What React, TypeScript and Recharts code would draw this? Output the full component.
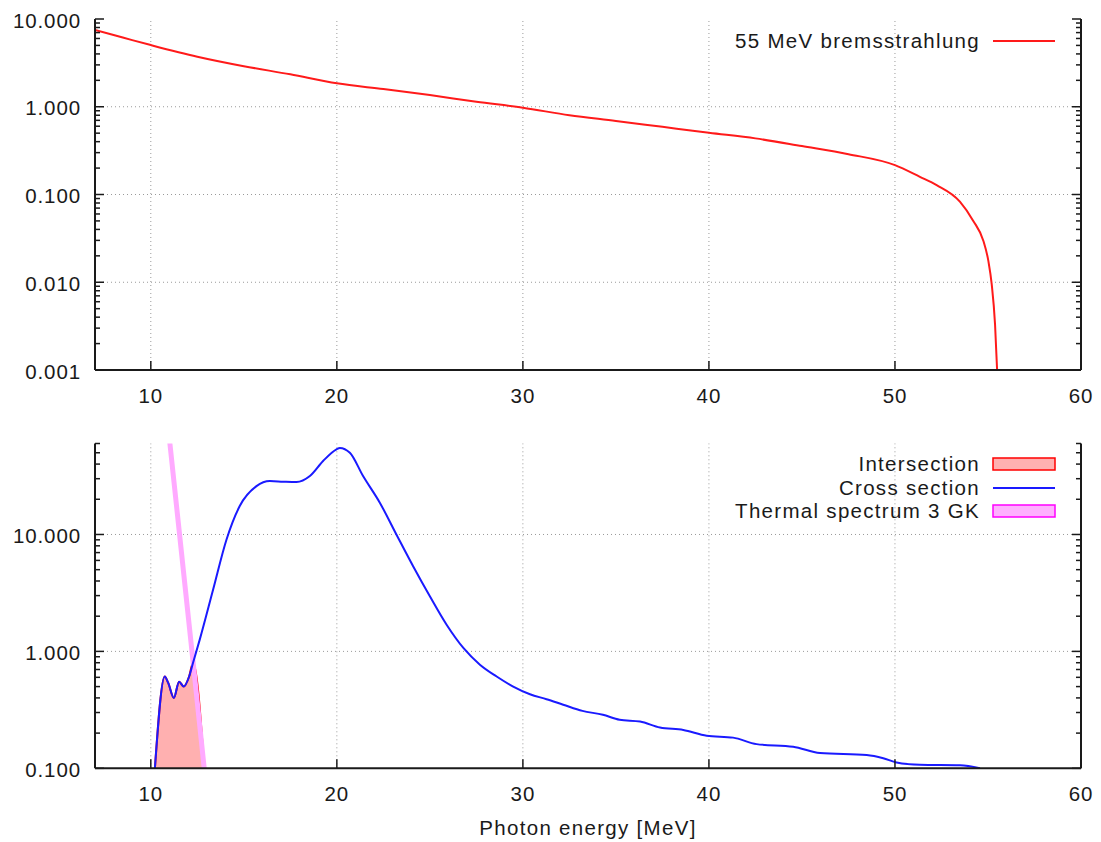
import React from "react";
import {
  ComposedChart,
  Line,
  Area,
  XAxis,
  YAxis,
  ReferenceLine,
  Legend,
} from "recharts";

const FONT = '"Liberation Sans", Arial, Helvetica, sans-serif';
const INK = "#1a1a1a";
const GRID = "#9a9a9a";

// shared energy axis
const energyDomain: [number, number] = [7, 60];
const energyTicks = [10, 20, 30, 40, 50, 60];
const energyGrid = [10, 20, 30, 40, 50];
const minorSteps = [2, 3, 4, 5, 6, 7, 8, 9];

// top panel: bremsstrahlung spectrum
const bremsE = [
  7, 8, 9, 10, 12.5, 15, 17.5, 20, 22.5, 25, 27.5, 30, 32.5, 35, 37.5, 40,
  42.5, 45, 47.5, 50, 51.34, 52.24, 53.49, 54.21, 54.75, 55.02, 55.2, 55.38,
  55.5,
];
const bremsV = [
  7.5, 6.58, 5.75, 5.05, 3.72, 2.9, 2.34, 1.85, 1.59, 1.36, 1.14, 0.975, 0.8,
  0.69, 0.59, 0.505, 0.436, 0.356, 0.288, 0.216, 0.159, 0.128, 0.083, 0.05,
  0.0297, 0.0175, 0.0095, 0.0033, 0.0009,
];
const topDomain: [number, number] = [0.001, 10];
const topDecades = [0.001, 0.01, 0.1, 1, 10];
const topGrid = [0.01, 0.1, 1];

// bottom panel
const crossE = [
  10.22, 10.75, 10.93, 11.24, 11.52, 11.77, 12.06, 12.27, 12.63, 13.35, 14.07,
  14.78, 15.68, 16.4, 17.11, 17.83, 18.55, 19.26, 19.98, 20.16, 20.7, 21.41,
  22.31, 23.2, 24.1, 25.0, 25.9, 26.8, 27.69, 28.59, 29.48, 30.38, 31.27,
  32.17, 33.2, 34.3, 35.2, 36.3, 37.37, 38.62, 39.88, 41.3, 42.56, 44.53,
  45.97, 48.48, 49.37, 50.09, 51.34, 53.5, 54.57,
];
const crossV = [
  0.1, 0.61, 0.54, 0.4, 0.55, 0.5, 0.61, 0.8, 1.26, 3.38, 9.06, 17.5, 25.9,
  28.6, 28.3, 28.1, 31.6, 42.5, 53.5, 55, 50, 31.6, 18.7, 10, 5.35, 2.96,
  1.69, 1.07, 0.77, 0.61, 0.5, 0.43, 0.39, 0.35, 0.31, 0.287, 0.26, 0.251,
  0.223, 0.213, 0.19, 0.183, 0.161, 0.153, 0.135, 0.13, 0.122, 0.112, 0.107,
  0.106, 0.1,
];
const interE = [10.22, 10.75, 10.93, 11.24, 11.52, 11.77, 12.06, 12.27, 12.87];
const interV = [0.1, 0.61, 0.54, 0.4, 0.55, 0.5, 0.61, 0.8, 0.1];
const thermE = [10.95, 12.27, 12.87];
const thermV = [78, 0.82, 0.1];
const bottomDomain: [number, number] = [0.1, 60];
const bottomDecades = [0.1, 1, 10];
const bottomGrid = [1, 10];

const toRows = (es: number[], vs: number[]) =>
  es.map((e, i) => ({ e, v: vs[i] }));

const bremsData = toRows(bremsE, bremsV);
const crossData = toRows(crossE, crossV);
const interData = toRows(interE, interV);
const thermData = toRows(thermE, thermV);

function logTicks(decades: number[], max: number) {
  const out: number[] = [];
  decades.forEach((d) => {
    out.push(d);
    minorSteps.forEach((m) => out.push(+(d * m).toPrecision(6)));
  });
  return out.filter((t) => t <= max);
}

const XTick = (props: any) => {
  const { x, y, payload, labels, down } = props;
  return (
    <g>
      <line
        x1={x}
        x2={x}
        y1={y}
        y2={down ? y + 9 : y - 9}
        stroke={INK}
        strokeWidth={1.5}
      />
      {labels && (
        <text
          x={x}
          y={y + 25.5}
          textAnchor="middle"
          dominantBaseline="central"
          fontFamily={FONT}
          fontSize={20.5}
          letterSpacing={0.9}
          fill={INK}
        >
          {payload.value}
        </text>
      )}
    </g>
  );
};

const YTick = (props: any) => {
  const { x, y, payload, decades, side } = props;
  const major = decades.includes(payload.value);
  const len = major ? 9 : 5;
  const dir = side === "left" ? 1 : -1;
  return (
    <g>
      <line
        x1={x}
        x2={x + dir * len}
        y1={y}
        y2={y}
        stroke={INK}
        strokeWidth={1.5}
      />
      {side === "left" && major && (
        <text
          x={x - 14}
          y={y + 1}
          textAnchor="end"
          dominantBaseline="central"
          fontFamily={FONT}
          fontSize={20.5}
          letterSpacing={0.9}
          fill={INK}
        >
          {Number(payload.value).toFixed(3)}
        </text>
      )}
    </g>
  );
};

interface LegendItem {
  name: string;
  kind: "line" | "box";
  stroke: string;
  fill?: string;
}

const KeyBox = ({ items }: { items: LegendItem[] }) => (
  <div style={{ width: 460, fontFamily: FONT, fontSize: 20.5, color: INK }}>
    {items.map((it) => (
      <div
        key={it.name}
        style={{
          display: "flex",
          justifyContent: "flex-end",
          alignItems: "center",
          height: 23.5,
        }}
      >
        <span style={{ marginRight: 12, letterSpacing: 1.3, whiteSpace: "nowrap" }}>
          {it.name}
        </span>
        <svg width={64} height={14} style={{ display: "block" }}>
          {it.kind === "line" ? (
            <line x1={1} x2={63} y1={7} y2={7} stroke={it.stroke} strokeWidth={2} />
          ) : (
            <rect
              x={1}
              y={1}
              width={62}
              height={12}
              fill={it.fill}
              stroke={it.stroke}
              strokeWidth={1.5}
            />
          )}
        </svg>
      </div>
    ))}
  </div>
);

const topKey: LegendItem[] = [
  { name: "55 MeV bremsstrahlung", kind: "line", stroke: "#ff1a1a" },
];
const bottomKey: LegendItem[] = [
  { name: "Intersection", kind: "box", stroke: "#ff0000", fill: "#ffb0b0" },
  { name: "Cross section", kind: "line", stroke: "#1a1aff" },
  { name: "Thermal spectrum 3 GK", kind: "box", stroke: "#ff00ff", fill: "#ffb0ff" },
];

function Frame({
  yDomain,
  decades,
  labelBottom,
}: {
  yDomain: [number, number];
  decades: number[];
  labelBottom?: string;
}) {
  const yTicks = logTicks(decades, yDomain[1]);
  return [
    <XAxis
      key="xb"
      xAxisId="b"
      dataKey="e"
      type="number"
      domain={energyDomain}
      ticks={energyTicks}
      allowDataOverflow
      interval={0}
      height={labelBottom ? 73.7 : 50}
      tickSize={0}
      tickMargin={0}
      tickLine={false}
      axisLine={{ stroke: INK, strokeWidth: 2 }}
      tick={(p: any) => <XTick {...p} labels />}
      label={
        labelBottom
          ? {
              value: labelBottom,
              position: "insideBottom",
              offset: 7,
              style: {
                fontFamily: FONT,
                fontSize: 20.5,
                letterSpacing: 1.3,
                fill: INK,
              },
            }
          : undefined
      }
    />,
    <XAxis
      key="xt"
      xAxisId="t"
      orientation="top"
      type="number"
      domain={energyDomain}
      ticks={energyTicks}
      allowDataOverflow
      interval={0}
      height={0}
      tickSize={0}
      tickMargin={0}
      tickLine={false}
      axisLine={{ stroke: INK, strokeWidth: 2 }}
      tick={(p: any) => <XTick {...p} down />}
    />,
    <YAxis
      key="yl"
      yAxisId="l"
      type="number"
      scale="log"
      domain={yDomain}
      ticks={yTicks}
      allowDataOverflow
      interval={0}
      width={95}
      tickSize={0}
      tickMargin={0}
      tickLine={false}
      axisLine={{ stroke: INK, strokeWidth: 2 }}
      tick={(p: any) => <YTick {...p} decades={decades} side="left" />}
    />,
    <YAxis
      key="yr"
      yAxisId="r"
      orientation="right"
      type="number"
      scale="log"
      domain={yDomain}
      ticks={yTicks}
      allowDataOverflow
      interval={0}
      width={20}
      tickSize={0}
      tickMargin={0}
      tickLine={false}
      axisLine={{ stroke: INK, strokeWidth: 2 }}
      tick={(p: any) => <YTick {...p} decades={decades} side="right" />}
    />,
  ];
}

function gridLines(yValues: number[]) {
  return [
    ...energyGrid.map((x) => (
      <ReferenceLine
        key={`gx${x}`}
        x={x}
        xAxisId="b"
        yAxisId="l"
        stroke={GRID}
        strokeDasharray="1 3"
      />
    )),
    ...yValues.map((y) => (
      <ReferenceLine
        key={`gy${y}`}
        y={y}
        xAxisId="b"
        yAxisId="l"
        stroke={GRID}
        strokeDasharray="1 3"
      />
    )),
  ];
}

export default function App() {
  return (
    <div
      style={{
        position: "absolute",
        left: 0,
        top: 0,
        width: 1101,
        height: 842,
        background: "#fff",
      }}
    >
      <div style={{ position: "absolute", left: 0, top: 0 }}>
        <ComposedChart
          width={1101}
          height={420}
          margin={{ top: 19, right: 0, bottom: 0, left: 0 }}
        >
          {Frame({ yDomain: topDomain, decades: topDecades })}
          {gridLines(topGrid)}
          <Legend
            layout="vertical"
            align="center"
            verticalAlign="middle"
            wrapperStyle={{ left: 596, top: 29, width: 460 }}
            content={() => <KeyBox items={topKey} />}
          />
          <Line
            data={bremsData}
            dataKey="v"
            name="55 MeV bremsstrahlung"
            xAxisId="b"
            yAxisId="l"
            type="monotone"
            stroke="#ff1a1a"
            strokeWidth={2}
            dot={false}
            isAnimationActive={false}
          />
        </ComposedChart>
      </div>
      <div style={{ position: "absolute", left: 0, top: 420 }}>
        <ComposedChart
          width={1101}
          height={422}
          margin={{ top: 23.5, right: 0, bottom: 0, left: 0 }}
        >
          {Frame({
            yDomain: bottomDomain,
            decades: bottomDecades,
            labelBottom: "Photon energy [MeV]",
          })}
          {gridLines(bottomGrid)}
          <Legend
            layout="vertical"
            align="center"
            verticalAlign="middle"
            wrapperStyle={{ left: 596, top: 32.5, width: 460 }}
            content={() => <KeyBox items={bottomKey} />}
          />
          <Line
            data={thermData}
            dataKey="v"
            name="Thermal spectrum 3 GK"
            xAxisId="b"
            yAxisId="l"
            type="linear"
            stroke="#ffaaff"
            strokeWidth={5}
            dot={false}
            isAnimationActive={false}
          />
          <Area
            data={interData}
            dataKey="v"
            name="Intersection"
            xAxisId="b"
            yAxisId="l"
            type="monotone"
            baseValue={0.1}
            stroke="#ff0000"
            strokeWidth={2}
            fill="#ffb0b0"
            fillOpacity={1}
            dot={false}
            isAnimationActive={false}
          />
          <Line
            data={crossData}
            dataKey="v"
            name="Cross section"
            xAxisId="b"
            yAxisId="l"
            type="monotone"
            stroke="#1a1aff"
            strokeWidth={2}
            dot={false}
            isAnimationActive={false}
          />
        </ComposedChart>
      </div>
    </div>
  );
}
